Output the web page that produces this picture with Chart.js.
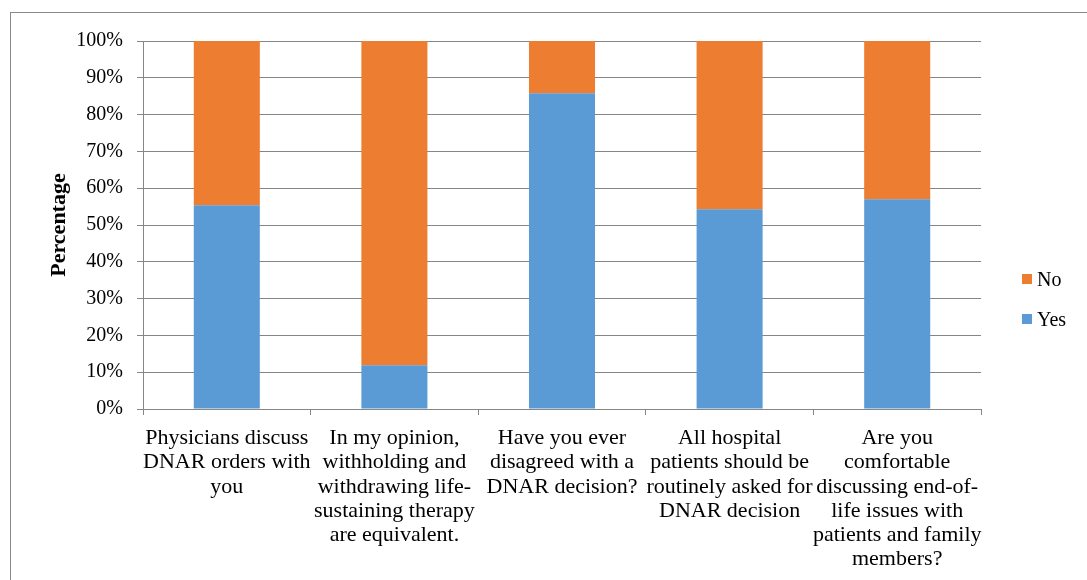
<!DOCTYPE html>
<html>
<head>
<meta charset="utf-8">
<script src="https://cdn.jsdelivr.net/npm/chart.js@4"></script>
<style>
  html, body { margin: 0; padding: 0; background: #fff; overflow: hidden; }
  #wrap { position: relative; width: 1087px; height: 580px; }
  #frame { position: absolute; left: 10px; top: 12px; width: 1100px; height: 600px; border: 1px solid #898989; box-sizing: border-box; }
  canvas { position: absolute; left: 0; top: 0; }
</style>
</head>
<body>
<div id="wrap">
  <div id="frame"></div>
  <canvas id="chart" width="1087" height="580"></canvas>
</div>
<script>
const questions = [
    ["Physicians discuss", "DNAR orders with", "you"],
    ["In my opinion,", "withholding and", "withdrawing life-", "sustaining therapy", "are equivalent."],
    ["Have you ever", "disagreed with a", "DNAR decision?"],
    ["All hospital", "patients should be", "routinely asked for", "DNAR decision"],
    ["Are you", "comfortable", "discussing end-of-", "life issues with", "patients and family", "members?"]
];
const yesPct = [55.4, 11.9, 85.8, 54.3, 57.0];
const noPct = [44.6, 88.1, 14.2, 45.7, 43.0];
const yTicks = [0, 10, 20, 30, 40, 50, 60, 70, 80, 90, 100];

const blue = '#5B9BD5';
const orange = '#ED7D31';
const gridGray = '#868686';
const serif = "'Liberation Serif', 'Times New Roman', serif";

// legend drawn at the right, "No" above "Yes"
const sideLegend = {
    id: 'sideLegend',
    afterDraw(chart) {
        const ctx = chart.ctx;
        const sets = chart.data.datasets.slice().reverse();
        ctx.save();
        ctx.font = "20px " + serif;
        ctx.textBaseline = 'alphabetic';
        ctx.textAlign = 'left';
        sets.forEach((ds, i) => {
            const y = 274 + i * 40;
            ctx.fillStyle = ds.backgroundColor;
            ctx.fillRect(1022, y, 10, 10);
            ctx.fillStyle = '#000';
            ctx.fillText(ds.label, 1037, y + 12);
        });
        ctx.restore();
    }
};

new Chart(document.getElementById('chart'), {
    type: 'bar',
    data: {
        labels: questions,
        datasets: [
            { label: 'Yes', data: yesPct, backgroundColor: blue, categoryPercentage: 1, barPercentage: 0.394 },
            { label: 'No', data: noPct, backgroundColor: orange, categoryPercentage: 1, barPercentage: 0.394 }
        ]
    },
    options: {
        responsive: false,
        animation: false,
        layout: { padding: { left: 0, top: 41, right: 106, bottom: 0 } },
        plugins: {
            legend: { display: false },
            tooltip: { enabled: false }
        },
        scales: {
            x: {
                stacked: true,
                offset: true,
                grid: { offset: true, drawOnChartArea: false, drawTicks: true, tickLength: 6, color: gridGray },
                border: { color: gridGray, width: 1 },
                ticks: {
                    autoSkip: false, maxRotation: 0, minRotation: 0, padding: 11,
                    color: '#000', font: { family: serif, size: 22, lineHeight: '24.3px' }
                },
                afterFit(scale) { scale.height = 171; }
            },
            y: {
                stacked: true,
                min: 0,
                max: 100,
                afterBuildTicks(scale) { scale.ticks = yTicks.map(v => ({ value: v })); },
                grid: { color: gridGray, tickLength: 6, drawTicks: true },
                border: { color: gridGray, width: 1 },
                ticks: {
                    padding: 14, color: '#000', font: { family: serif, size: 20 },
                    callback: v => v + '%'
                },
                title: {
                    display: true, text: 'Percentage', color: '#000',
                    font: { family: serif, size: 22, weight: 'bold' },
                    padding: { top: 46, bottom: 0 }
                },
                afterFit(scale) { scale.width = 143; }
            }
        }
    },
    plugins: [sideLegend]
});
</script>
</body>
</html>
